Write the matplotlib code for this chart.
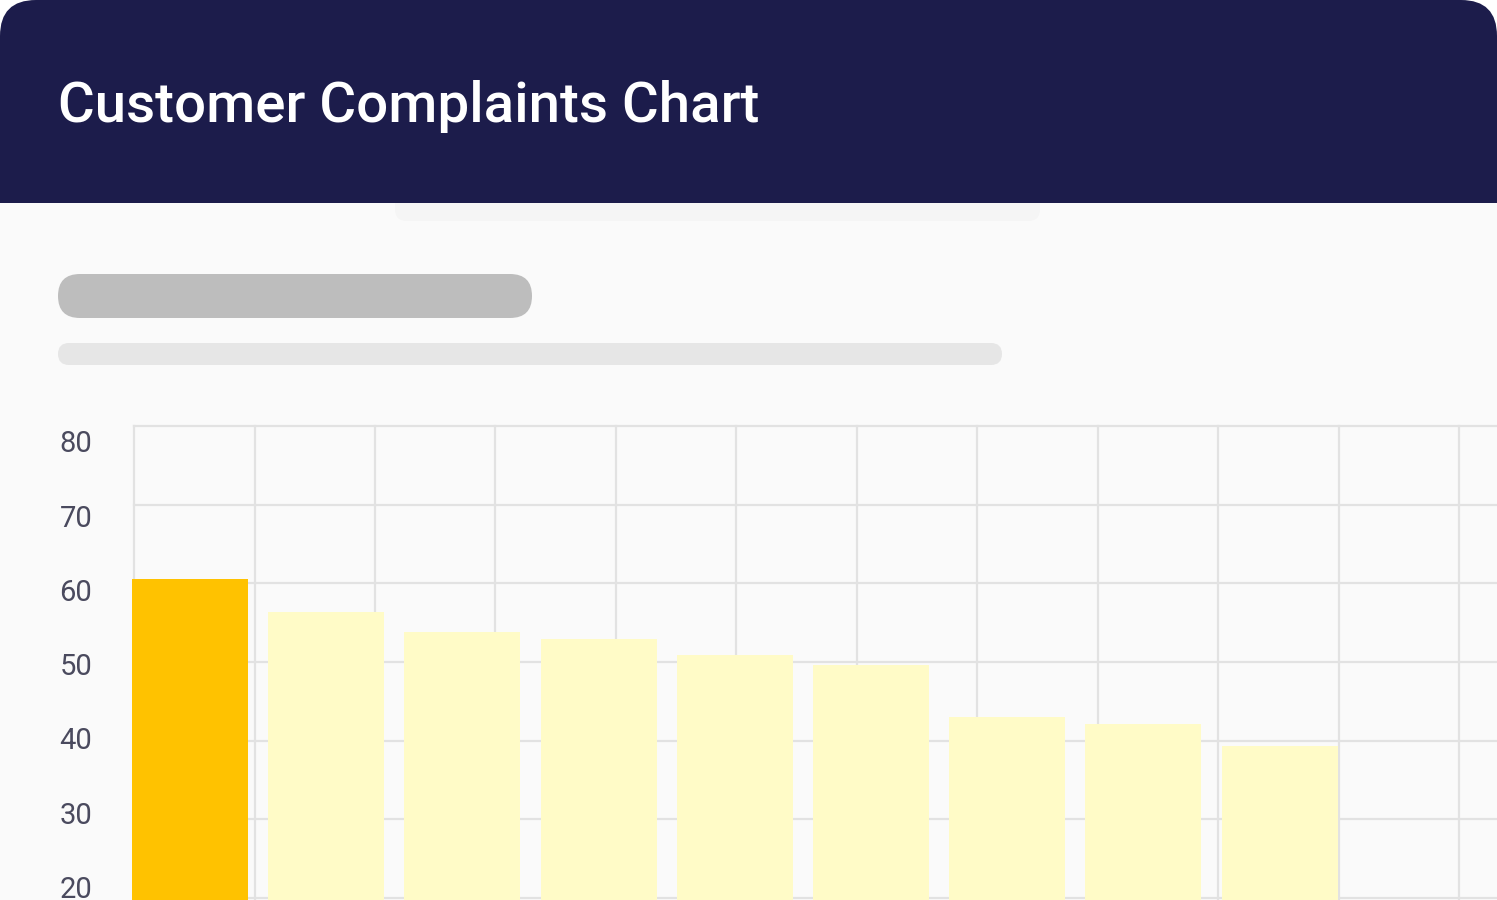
import matplotlib
matplotlib.use("Agg")
import matplotlib.pyplot as plt
from matplotlib.patches import FancyBboxPatch, Rectangle
from matplotlib.ticker import MultipleLocator
from matplotlib.transforms import ScaledTranslation

plt.rcParams["font.family"] = ["Roboto", "DejaVu Sans"]

# data (bottom of the chart is cut off)
categories = ["Cause A", "Cause B", "Cause C", "Cause D", "Cause E",
              "Cause F", "Cause G", "Cause H", "Cause I"]
complaints = [61.7, 57.3, 54.6, 53.6, 51.5, 50.2, 43.1, 42.2, 39.2]
y_ticks = [20, 30, 40, 50, 60, 70, 80]
title = "Customer Complaints Chart"

# colours
HEADER = "#1C1C4B"
BODY = "#FAFAFA"
TOP_BAR = "#FFC200"
OTHER_BAR = "#FFFBC7"
GRID = "#E2E2E2"
LABEL = "#4A4A5E"

W, H = 1497, 900
fig = plt.figure(figsize=(W / 100, H / 100), dpi=100, facecolor="white")

# background layer in pixel units
bg = fig.add_axes([0, 0, 1, 1])
bg.set_xlim(0, W)
bg.set_ylim(H, 0)
bg.axis("off")

bg.add_patch(FancyBboxPatch((0, 0), W, 300, boxstyle="round,pad=0,rounding_size=36",
                            fc=HEADER, ec="none"))
bg.add_patch(Rectangle((0, 203), W, H - 203, fc=BODY, ec="none"))
# faint shadow under header
bg.add_patch(FancyBboxPatch((395, 190), 645, 31, boxstyle="round,pad=0,rounding_size=12",
                            fc="#F5F5F5", ec="none"))
bg.add_patch(Rectangle((0, 190), W, 13, fc=HEADER, ec="none"))

# placeholder pills
bg.add_patch(FancyBboxPatch((58, 274), 474, 44, boxstyle="round,pad=0,rounding_size=22",
                            fc="#BDBDBD", ec="none"))
bg.add_patch(FancyBboxPatch((58, 343), 944, 22, boxstyle="round,pad=0,rounding_size=11",
                            fc="#E6E6E6", ec="none"))

bg.text(58, 122, title, color="white", fontsize=40.6, fontweight="medium",
        ha="left", va="baseline")

# chart area
left, top = 134, 426
rect = [left / W, 0, (W - left) / W, (H - top) / H]

# decorative grid behind the bars
grid_ax = fig.add_axes(rect)
grid_ax.set_xlim(0, (W - left) / 120.5)
grid_ax.set_ylim((H - top) / 78.67, 0)
grid_ax.xaxis.set_major_locator(MultipleLocator(1))
grid_ax.yaxis.set_major_locator(MultipleLocator(1))
grid_ax.grid(True, color=GRID, linewidth=1.6)
for line in grid_ax.get_xgridlines() + grid_ax.get_ygridlines():
    line.set_clip_on(False)
grid_ax.tick_params(length=0, labelleft=False, labelbottom=False)
for s in grid_ax.spines.values():
    s.set_visible(False)
grid_ax.set_facecolor(BODY)

ax = fig.add_axes(rect)
ax.patch.set_alpha(0)
x = list(range(len(categories)))
colors = [TOP_BAR] + [OTHER_BAR] * (len(categories) - 1)
bars = ax.bar(x, complaints, width=0.852, color=colors, zorder=3)
for b in bars:
    b.set_clip_on(False)

px_per_unit = 7.42
y80 = 443.5
ax.set_ylim(80 - (H - y80) / px_per_unit, 80 + (y80 - top) / px_per_unit)
ax.set_xlim(-56 / 136.2, (W - 190) / 136.2)
ax.set_yticks(y_ticks)
ax.set_yticklabels([str(t) for t in y_ticks])
ax.set_xticks(x)
ax.set_xticklabels(categories)
ax.tick_params(axis="y", length=0, pad=30, labelsize=21, labelcolor=LABEL)
# nudge tick labels up a touch
shift = ScaledTranslation(0, 2 / 100, fig.dpi_scale_trans)
for lab in ax.get_yticklabels():
    lab.set_transform(lab.get_transform() + shift)
# category labels sit below the visible crop
ax.tick_params(axis="x", length=0, labelbottom=False)
for s in ax.spines.values():
    s.set_visible(False)

fig.savefig("out.png", dpi=100, facecolor="white")
